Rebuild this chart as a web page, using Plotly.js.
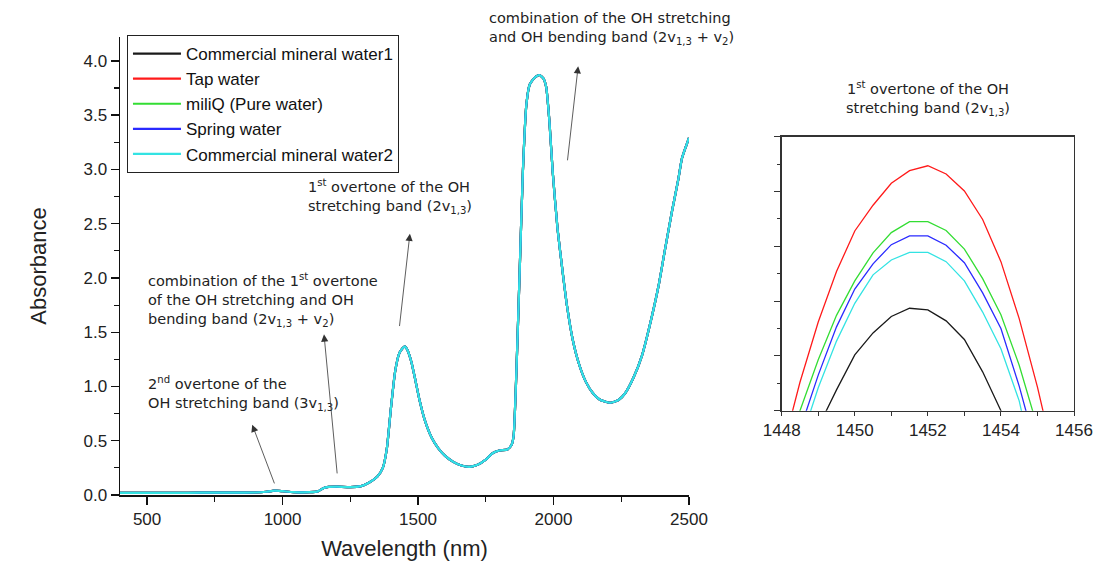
<!DOCTYPE html>
<html>
<head>
<meta charset="utf-8">
<script src="https://cdn.plot.ly/plotly-3.0.1.min.js"></script>
<style>html,body{margin:0;padding:0;background:#fff;}#chart{width:1093px;height:564px;}</style>
</head>
<body>
<div id="chart"></div>
<script>
// ---- data ----
const seriesNames = ['Commercial mineral water1', 'Tap water', 'miliQ (Pure water)', 'Spring water', 'Commercial mineral water2'];
const seriesColors = ['#1a1a1a', '#ff1a1a', '#33dd33', '#2a2aff', '#33e3e3'];

// full spectrum (all five samples overlap at this scale)
const wavelength = [400, 500, 600, 700, 800, 900, 940, 970, 1000, 1040,
  1100, 1130, 1150, 1170, 1200, 1250, 1290, 1320, 1350, 1370,
  1385, 1400, 1415, 1430, 1442, 1451, 1462, 1475, 1490, 1505,
  1525, 1550, 1575, 1600, 1630, 1660, 1690, 1720, 1750, 1775,
  1800, 1830, 1845, 1853, 1863, 1875, 1887, 1900, 1912, 1930,
  1948, 1962, 1973, 1985, 1997, 2015, 2034, 2050, 2071, 2095,
  2120, 2145, 2170, 2209, 2240, 2265, 2295, 2326, 2355, 2388,
  2410, 2437, 2460, 2474, 2490, 2500];
const absorbance = [0.020, 0.020, 0.020, 0.021, 0.021, 0.023, 0.030, 0.040, 0.035, 0.027,
  0.026, 0.033, 0.062, 0.075, 0.077, 0.073, 0.082, 0.115, 0.170, 0.250,
  0.430, 0.800, 1.130, 1.300, 1.350, 1.370, 1.330, 1.230, 1.060, 0.880,
  0.690, 0.530, 0.430, 0.360, 0.305, 0.272, 0.260, 0.278, 0.325, 0.385,
  0.410, 0.420, 0.460, 0.550, 1.130, 2.050, 2.980, 3.600, 3.780, 3.845,
  3.870, 3.840, 3.760, 3.440, 2.980, 2.450, 2.050, 1.740, 1.430, 1.200,
  1.040, 0.940, 0.880, 0.850, 0.875, 0.940, 1.080, 1.280, 1.560, 1.930,
  2.240, 2.610, 2.900, 3.100, 3.220, 3.290];

// inset: zoom on the 1st overtone peak
const insetWavelength = [1448.0, 1448.5, 1449.0, 1449.5, 1450.0, 1450.5, 1451.0, 1451.5,
  1452.0, 1452.5, 1453.0, 1453.5, 1454.0, 1454.5, 1455.0, 1455.5];
const insetMineral1 = [1.3552, 1.3576, 1.3594, 1.36076, 1.36204, 1.36284, 1.36344, 1.36374,
  1.36368, 1.36328, 1.3626, 1.36142, 1.3600, 1.3582, 1.3560, 1.3536];
const insetTap = [1.35846, 1.36104, 1.36324, 1.36508, 1.36656, 1.3675, 1.3683, 1.36876,
  1.36894, 1.36864, 1.36802, 1.36698, 1.36544, 1.36336, 1.36086, 1.3580];
const insetMiliQ = [1.3580, 1.3600, 1.36186, 1.36348, 1.36474, 1.36576, 1.3665, 1.3669,
  1.3669, 1.36658, 1.3659, 1.36482, 1.3635, 1.36166, 1.3594, 1.3570];
const insetSpring = [1.3573, 1.3593, 1.3613, 1.36306, 1.36444, 1.36536, 1.36606, 1.36638,
  1.36638, 1.36604, 1.3654, 1.3643, 1.3630, 1.3609, 1.3584, 1.3560];
const insetMineral2 = [1.3564, 1.3588, 1.36084, 1.36254, 1.36392, 1.36496, 1.3655, 1.36578,
  1.36578, 1.36544, 1.36474, 1.3636, 1.36226, 1.36036, 1.3574, 1.3550];
const insetSeries = [insetMineral1, insetTap, insetMiliQ, insetSpring, insetMineral2];

// band labels
const labelCombOH = 'combination of the OH stretching<br>and OH bending band (2v<sub>1,3</sub> + v<sub>2</sub>)';
const labelFirst = '1<sup>st</sup> overtone of the OH<br>stretching band (2v<sub>1,3</sub>)';
const labelComb1st = 'combination of the 1<sup>st</sup> overtone<br>of the OH stretching and OH<br>bending band (2v<sub>1,3</sub> + v<sub>2</sub>)';
const labelSecond = '2<sup>nd</sup> overtone of the<br>OH stretching band (3v<sub>1,3</sub>)';

// ---- traces ----
const traces = [];
seriesNames.forEach((name, i) => {
  traces.push({
    type: 'scatter', mode: 'lines', name: name,
    x: wavelength, y: absorbance, xaxis: 'x', yaxis: 'y',
    line: {color: seriesColors[i], width: 2.2, shape: 'spline', smoothing: 0.5},
    hoverinfo: 'skip'
  });
});
seriesNames.forEach((name, i) => {
  traces.push({
    type: 'scatter', mode: 'lines', name: name, showlegend: false,
    x: insetWavelength, y: insetSeries[i], xaxis: 'x2', yaxis: 'y2',
    line: {color: seriesColors[i], width: 1.3},
    hoverinfo: 'skip'
  });
});

const tickFont = {family: 'Liberation Sans, Arial, sans-serif', size: 17, color: '#222'};
const noteFont = {family: 'DejaVu Sans, Verdana, sans-serif', size: 14.5, color: '#222'};

function arrow(xHead, yHead, xTail, yTail) {
  return {xref: 'x', yref: 'y', axref: 'x', ayref: 'y', x: xHead, y: yHead, ax: xTail, ay: yTail,
    text: '', showarrow: true, arrowhead: 2, arrowsize: 1.8, arrowwidth: 0.8, arrowcolor: '#333'};
}

const layout = {
  width: 1093, height: 564,
  margin: {l: 120, r: 19, t: 37, b: 69},
  paper_bgcolor: '#ffffff', plot_bgcolor: '#ffffff',
  showlegend: true,
  legend: {
    x: 0.0073, y: 1.0044, xanchor: 'left', yanchor: 'top',
    bordercolor: '#222', borderwidth: 1, bgcolor: '#ffffff',
    font: {family: 'Liberation Sans, Arial, sans-serif', size: 17, color: '#111'},
    itemwidth: 48, tracegroupgap: 0
  },
  xaxis: {
    domain: [0, 0.5964], range: [400, 2500], anchor: 'y',
    showline: true, linecolor: '#111', linewidth: 1.5, zeroline: false, showgrid: false,
    ticks: 'outside', ticklen: 8, tickwidth: 1.3, tickcolor: '#111',
    tick0: 0, dtick: 500, tickfont: tickFont,
    minor: {ticks: 'outside', dtick: 250, ticklen: 5, tickwidth: 1.1, tickcolor: '#111', showgrid: false},
    title: {text: 'Wavelength (nm)', font: {family: 'Liberation Sans, Arial, sans-serif', size: 22, color: '#222'}, standoff: 12}
  },
  yaxis: {
    domain: [0, 1], range: [0, 4.22], anchor: 'x',
    showline: true, linecolor: '#111', linewidth: 1.5, zeroline: false, showgrid: false,
    ticks: 'outside', ticklen: 8, tickwidth: 1.3, tickcolor: '#111',
    tick0: 0, dtick: 0.5, tickformat: '.1f', tickfont: tickFont,
    minor: {ticks: 'outside', dtick: 0.25, ticklen: 5, tickwidth: 1.1, tickcolor: '#111', showgrid: false},
    title: {text: 'Absorbance', font: {family: 'Liberation Sans, Arial, sans-serif', size: 22, color: '#222'}, standoff: 31}
  },
  xaxis2: {
    domain: [0.6936, 1], range: [1448, 1456], anchor: 'y2',
    showline: true, mirror: true, linecolor: '#333', linewidth: 1.3, zeroline: false, showgrid: false,
    ticks: 'outside', ticklen: 4, tickwidth: 1, tickcolor: '#333',
    tick0: 1448, dtick: 2, tickfont: tickFont,
    minor: {ticks: 'outside', dtick: 1, ticklen: 4, tickwidth: 1, tickcolor: '#333', showgrid: false}
  },
  yaxis2: {
    domain: [0.184, 0.7823], range: [1.36, 1.37], anchor: 'x2',
    showline: true, mirror: true, linecolor: '#333', linewidth: 1.3, zeroline: false, showgrid: false,
    showticklabels: false,
    ticks: 'outside', ticklen: 6, tickwidth: 1, tickcolor: '#333',
    tick0: 1.36, dtick: 0.002,
    minor: {ticks: 'outside', dtick: 0.001, ticklen: 3, tickwidth: 1, tickcolor: '#333', showgrid: false}
  },
  annotations: [
    {xref: 'paper', yref: 'paper', x: 0.3847, y: 1.019, xanchor: 'left', yanchor: 'middle', align: 'left', showarrow: false, text: labelCombOH, font: noteFont},
    {xref: 'paper', yref: 'paper', x: 0.2830, y: 0.6513, xanchor: 'center', yanchor: 'middle', align: 'left', showarrow: false, text: labelFirst, font: noteFont},
    {xref: 'paper', yref: 'paper', x: 0.0273, y: 0.4258, xanchor: 'left', yanchor: 'middle', align: 'left', showarrow: false, text: labelComb1st, font: noteFont},
    {xref: 'paper', yref: 'paper', x: 0.0273, y: 0.2227, xanchor: 'left', yanchor: 'middle', align: 'left', showarrow: false, text: labelSecond, font: noteFont},
    {xref: 'paper', yref: 'paper', x: 0.8470, y: 0.8668, xanchor: 'center', yanchor: 'middle', align: 'center', showarrow: false, text: labelFirst, font: noteFont},
    arrow(888, 0.648, 972, 0.093),
    arrow(1153, 1.48, 1202, 0.185),
    arrow(1470, 2.407, 1431, 1.543),
    arrow(2091, 3.95, 2051, 3.07)
  ]
};

Plotly.newPlot('chart', traces, layout, {displayModeBar: false, staticPlot: true});
</script>
</body>
</html>
